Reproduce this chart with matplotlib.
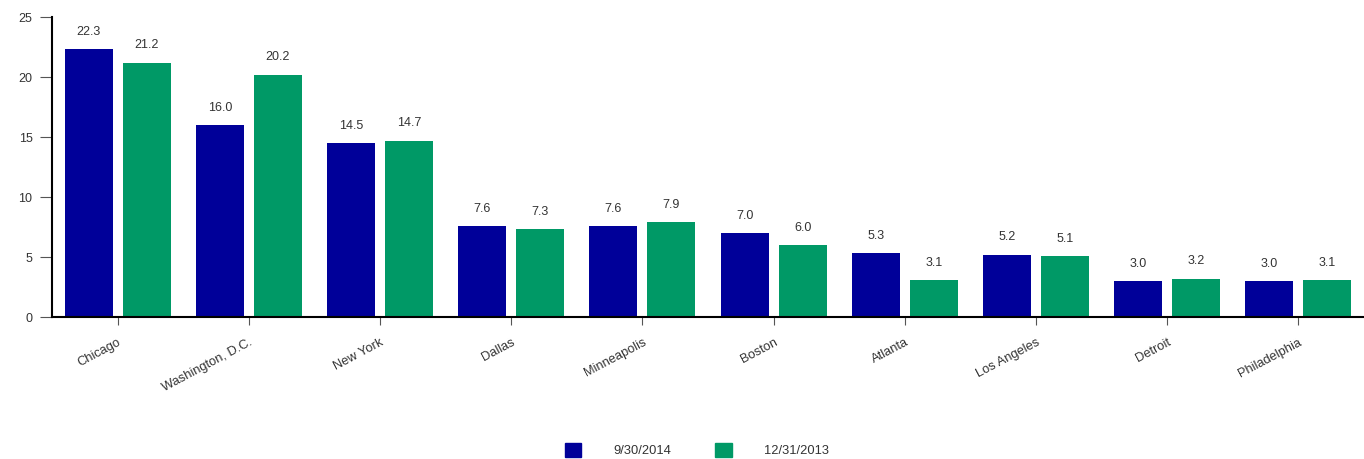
import matplotlib
matplotlib.use("Agg")
import matplotlib.pyplot as plt
import numpy as np
from matplotlib.patches import Patch

plt.rcParams['font.family'] = ['Liberation Sans', 'DejaVu Sans']

categories = ["Chicago", "Washington, D.C.", "New York", "Dallas", "Minneapolis",
              "Boston", "Atlanta", "Los Angeles", "Detroit", "Philadelphia"]
series_2014 = [22.3, 16.0, 14.5, 7.6, 7.6, 7.0, 5.3, 5.2, 3.0, 3.0]
series_2013 = [21.2, 20.2, 14.7, 7.3, 7.9, 6.0, 3.1, 5.1, 3.2, 3.1]
series_names = ["9/30/2014", "12/31/2013"]
yticks = [0, 5, 10, 15, 20, 25]

c_blue = "#000099"
c_green = "#009966"
text_c = "#333333"

fig = plt.figure(figsize=(13.64, 4.59), dpi=100)
ax = fig.add_axes([52/1364, 1-317/459, 1-52/1364, 300/459])

x = np.arange(len(categories))
w = 0.366
off = 0.221
b1 = ax.bar(x - off, series_2014, w, color=c_blue)
b2 = ax.bar(x + off, series_2013, w, color=c_green)

for bars, vals in ((b1, series_2014), (b2, series_2013)):
    for r, v in zip(bars, vals):
        ax.annotate(f"{v:.1f}", (r.get_x() + r.get_width()/2, v),
                    xytext=(0, 8), textcoords="offset points",
                    ha="center", va="bottom", fontsize=9, color=text_c)

ax.set_xlim(-0.5, len(categories) - 0.5)
ax.set_ylim(0, 25)
ax.set_yticks(yticks)
ax.set_yticklabels([str(t) for t in yticks], fontsize=9, color=text_c)
ax.set_xticks(x)
ax.set_xticklabels(categories, rotation=28, ha="right", rotation_mode="anchor",
                   fontsize=9.3, color=text_c)
ax.tick_params(axis="y", length=9, width=0.8, color="#555555", pad=5)
ax.tick_params(axis="x", length=6, width=0.8, color="#555555", pad=8)
for s in ("top", "right"):
    ax.spines[s].set_visible(False)
ax.spines["left"].set_linewidth(1.5)
ax.spines["bottom"].set_linewidth(1.5)

handles = [Patch(color=c_blue), Patch(color=c_green)]
fig.legend(handles, series_names, loc="lower center", bbox_to_anchor=(0.511, -0.022),
           ncol=2, frameon=False, fontsize=9.3, handlelength=1.3, handleheight=1.3,
           handletextpad=2.5, columnspacing=3.4, labelcolor=text_c)

fig.savefig("out.png", dpi=100)
